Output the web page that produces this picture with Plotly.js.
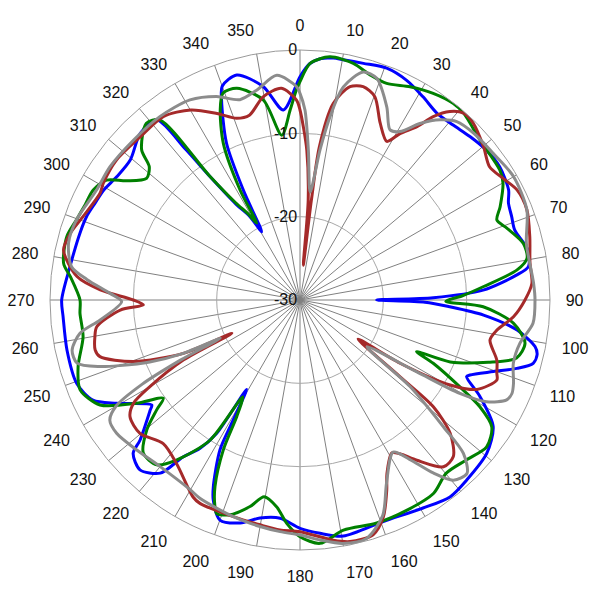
<!DOCTYPE html>
<html>
<head>
<meta charset="utf-8">
<script src="https://cdn.plot.ly/plotly-3.0.1.min.js"></script>
<style>html,body{margin:0;padding:0;background:#fff;}#chart{width:600px;height:600px;}</style>
</head>
<body>
<div id="chart"></div>
<script>
// Angles in degrees (clockwise from top), levels in dB
const blueTheta = [0,2.4,5,7.8,10.2,15,20.5,25.9,31.2,36.2,41.2,46.1,51.2,56.3,62.2,65,68.5,72,77.6,81.7,83.4,86.9,89,90,91,92.6,94.7,97.9,101.2,103,105.2,107.5,110.3,113.8,114.7,118.2,123.2,129.4,137.2,142.7,149.4,159.4,169.6,175.1,180,185.2,190.4,195,200,203.4,204.9,208.1,209,210.8,212,214,216.7,218.9,223.3,227.4,228.8,233.7,234.7,240.6,244.2,249.5,257.9,266,270,278.2,286.9,291.3,295.3,299.2,303.9,309.5,316.2,321.5,322.8,323.9,326.3,329,330.7,332.7,334.9,338.6,340,344.3,350.2,355,360];
const blueR = [-3.2,-1.6,-0.9,-0.7,-0.7,-0.6,-0.3,-0.7,-1.5,-2.2,-2.1,-1.7,-1.3,-1.2,-1.7,-2.4,-2.7,-2.9,-2.0,-2.3,-3.8,-8.0,-14,-20.8,-15,-12,-7.9,-3.7,-1.25,-0.8,-1.0,-2.7,-5.25,-7.7,-8.0,-5.5,-2.3,-1.0,-0.56,-0.3,-1.0,-1.6,-1.2,-1.9,-2.6,-3.7,-3.4,-2.3,-1.9,-3.8,-5.3,-9.6,-13.1,-17.5,-11.1,-8.5,-6.5,-3.3,-2.0,-2.8,-4.5,-7.7,-8.2,-4.75,-2.4,-1.4,-1.4,-1.5,-1.4,-2.1,-2.4,-2.5,-2.8,-3.0,-3.5,-3.6,-2.3,-2.4,-7.3,-11.7,-16.2,-18.3,-20.6,-15.2,-9.2,-4.2,-2.7,-1.95,-4.0,-7.1,-3.2];

const greenTheta = [0,2.4,7,12.7,17.3,21.8,27.3,32.8,37.9,41.2,48.4,57,60.1,65,67.9,70.9,75.8,79.6,82.1,85.8,88.5,90.5,92.1,96.2,100.9,105,108.3,112.4,113.9,115.4,118.5,120.7,123.5,128.2,133.8,139.8,145.4,153,161,169.3,175.3,180,183.4,186.4,190.3,193.6,198,201.3,202.5,204.5,207.1,208.5,210.6,212.7,217.6,221,225.6,229.7,232.5,234.3,237.7,242.3,247.8,253.3,260.4,266.5,270,275.8,278.8,285.2,289.7,294,298,301.8,304.5,308.4,311.5,313.5,319,322.1,323.9,326.5,329,330.6,331.4,333.9,337.2,339.6,343.4,349.6,353.7,357,359,360];
const greenR = [-3.8,-1.6,-0.6,-0.9,-1.7,-2.0,-1.2,-0.5,-0.1,-0.2,-1.1,-1.4,-1.9,-3.5,-4.5,-3.7,-2.35,-2.3,-3.7,-7.9,-10.5,-12.5,-8.0,-4.25,-2.5,-3.1,-6.2,-10.5,-14.7,-12.3,-8.2,-4.9,-2.4,-1.5,-2.3,-2.8,-1.8,-1.7,-1.7,-1.9,-0.7,-1.6,-3.15,-5.0,-6.0,-4.5,-2.9,-2.5,-3.3,-5.4,-9.8,-14.1,-16.5,-10,-5.8,-3.8,-3.7,-5.9,-8.3,-9.8,-6.8,-2.9,-1.5,-2.2,-3.6,-3.55,-3.6,-2.3,-1.3,-1.0,-1.5,-1.8,-1.9,-2.7,-4.75,-6.5,-5.85,-3.8,-1.9,-2.6,-11.5,-16,-18,-19.4,-15,-9.1,-5.3,-3.5,-3.5,-5.6,-10.1,-7.2,-4.8,-3.8];

const redTheta = [0,1.1,2.6,4.7,5.4,6.5,7.2,9.6,13.2,16.5,20.2,24.4,28.7,31,34,36,38.5,41.2,44.4,50.1,54.9,59.1,63.1,68.3,74.6,80.9,85.9,90,94.5,98.7,101.9,107,110.4,112.1,116.8,119.5,122.3,124,127.5,128.7,131.6,135.6,139.3,143.9,147,149,153.4,155.5,159,162.7,168.3,172.1,180,185,190.1,197.1,206.2,208.5,217,223.6,230.2,235.5,238.2,240,242.8,243.9,245.4,249.7,254.2,256.3,259.9,262.5,266.8,268.2,270,272.9,276,281.9,286.2,291,298.1,300.7,307.4,315.6,323.3,330.1,336,340.8,344.7,349.8,355,359,360];
const redR = [-7.2,-9.2,-12,-18,-25.8,-18,-11.5,-6.1,-3.7,-3.3,-4.0,-6.7,-8.3,-6.7,-4.9,-2.8,-1.1,-0.2,-0.3,-1.3,-2.2,-1.6,-0.8,-0.7,-1.4,-2.05,-2.1,-3,-4.3,-6.1,-6.7,-5.3,-4.8,-4.5,-6.2,-9.3,-15.8,-21.6,-14.9,-9.5,-5.9,-3.7,-3.6,-6.2,-8.0,-8.6,-6.7,-4.9,-2.1,-0.5,-0.4,-0.9,-2.2,-2.3,-2.6,-2.8,-2.8,-3.1,-5.4,-6.2,-5.0,-5.25,-6.5,-9.2,-14.3,-20.9,-14.6,-8.7,-5.05,-4.7,-5.0,-5.4,-8.4,-11.2,-10,-6,-3.1,-1.0,-1.3,-2.1,-2.8,-2.55,-2.3,-2.6,-2.55,-3.7,-5.5,-6.9,-7.0,-5.2,-4.5,-6.0,-7.2];

const grayTheta = [0,1.5,3.2,5.4,7.6,9.3,11.5,15.5,19.1,24.2,27.9,30.7,34.2,37.9,41.3,46.1,52.8,60,68.3,76,85.9,90,95.7,101.1,106.5,111.3,113.8,115.8,118.6,120.3,121.6,125,128.2,131.5,133.2,136.1,139.6,142.4,145.5,148.5,154.7,159,164.4,170.1,175.2,180,184.9,190,197.1,206.8,210.1,220,227.4,234,237.7,240,241.9,243.3,244.4,245.5,247.6,250,251.6,254.2,257.6,261.4,264.3,269.5,272,275.5,278.3,283.8,289.7,298.4,305,313.8,322.6,331.2,337.7,343.3,348.3,354.1,359.1,360];
const grayR = [-5.2,-7.2,-12,-17,-11.8,-7.7,-3.9,-1.6,-1.85,-4.6,-6.9,-6.5,-4.4,-2.6,-1.5,-1.1,-0.9,-0.4,-0.7,-2.0,-1.9,-1.8,-1.9,-3.1,-3.3,-2.5,-2.2,-2.45,-4.5,-7.8,-13.6,-20.2,-13.2,-7.0,-3.1,-1.1,-1.6,-3.8,-6.8,-8.6,-5.7,-2.3,-0.3,-0.35,-1.1,-1.8,-2.1,-2.4,-2.8,-3.35,-3.7,-3.9,-3.4,-2.8,-3.0,-4.5,-8.5,-14,-19.4,-14.5,-10.5,-7,-4.7,-2.2,-2.0,-3.3,-5.9,-8.6,-7.2,-4.3,-2.3,-1.4,-1.5,-2.25,-2.15,-2.3,-2.3,-2.6,-3.6,-4.9,-4.3,-2.9,-4.4,-5.2];

const angleTicks = [0,10,20,30,40,50,60,70,80,90,100,110,120,130,140,150,160,170,180,190,200,210,220,230,240,250,260,270,280,290,300,310,320,330,340,350];
const radialTicks = [-30,-20,-10,0];

function tr(theta, r, color) {
  return {type:'scatterpolar', mode:'lines', theta:theta, r:r,
    line:{color:color, width:3, shape:'spline', smoothing:0.8},
    hoverinfo:'skip', showlegend:false};
}

const data = [
  tr(blueTheta, blueR, '#0000ff'),
  tr(greenTheta, greenR, '#008000'),
  tr(redTheta, redR, '#a52a2a'),
  tr(grayTheta, grayR, '#8c8c8c')
];

const layout = {
  width:600, height:600,
  margin:{l:50, r:50, t:50, b:50},
  paper_bgcolor:'#ffffff',
  showlegend:false,
  polar:{
    bgcolor:'#ffffff',
    domain:{x:[0,1], y:[0,1]},
    angularaxis:{
      rotation:90, direction:'clockwise',
      tickmode:'array', tickvals:angleTicks, ticktext:angleTicks.map(String),
      ticks:'outside', ticklen:12, tickcolor:'rgba(0,0,0,0)',
      showline:true, linecolor:'#9a9a9a', linewidth:1,
      showgrid:true, gridcolor:'#808080', gridwidth:1,
      tickfont:{family:'Liberation Sans, Arial, sans-serif', size:16, color:'#111'}
    },
    radialaxis:{
      range:[-30,0], tickmode:'array', tickvals:radialTicks, ticktext:radialTicks.map(String),
      angle:90, side:'counterclockwise', tickangle:90,
      ticks:'', showline:false,
      showgrid:true, gridcolor:'#a8a8a8', gridwidth:1,
      tickfont:{family:'Liberation Sans, Arial, sans-serif', size:16, color:'#111'}
    }
  }
};

Plotly.newPlot('chart', data, layout, {displayModeBar:false, staticPlot:true});
</script>
</body>
</html>
